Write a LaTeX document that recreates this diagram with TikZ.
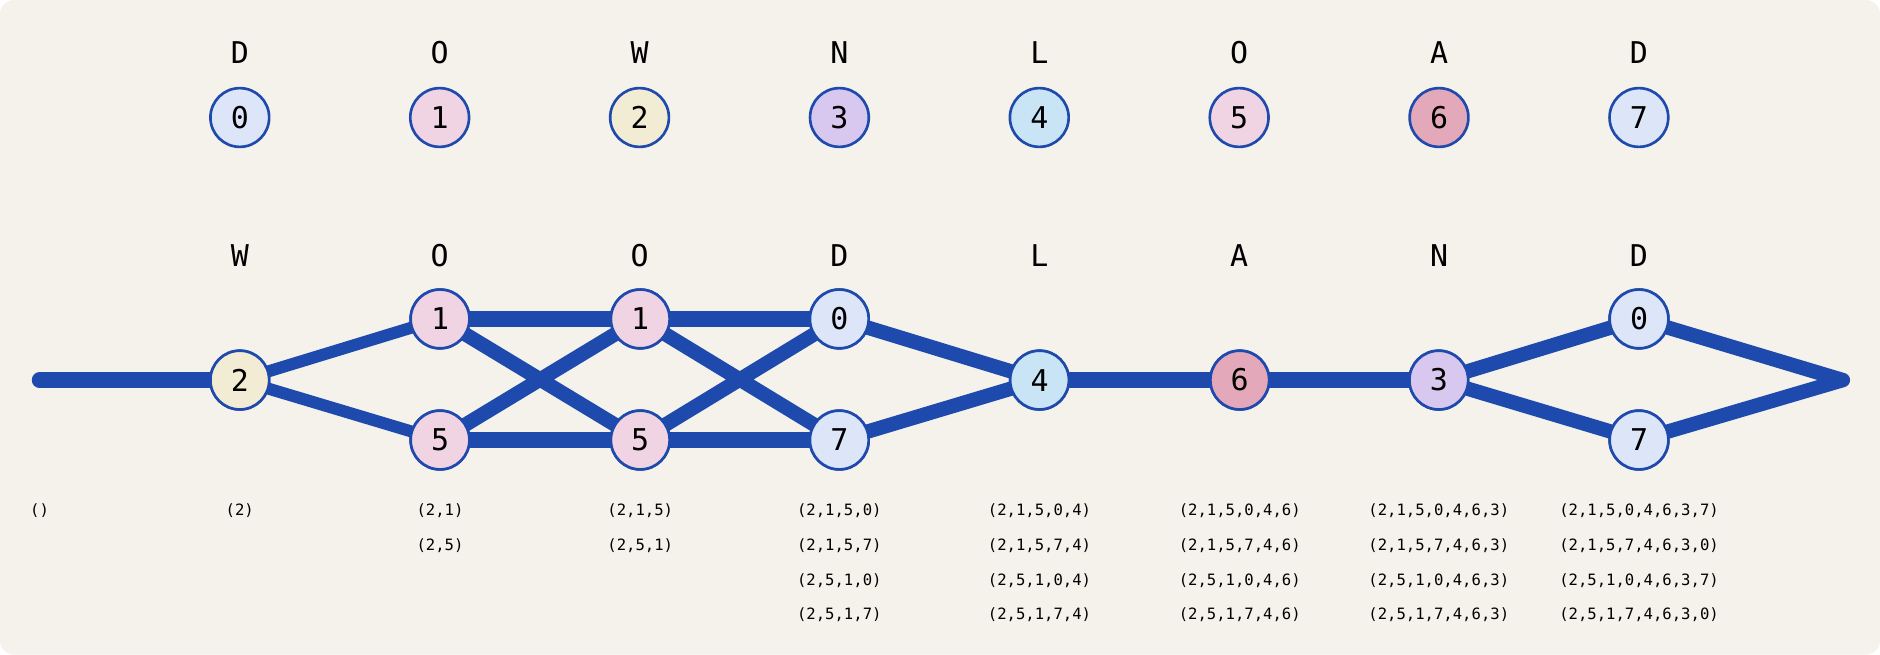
\documentclass[tikz,border=0pt]{standalone}
\usepackage{fontspec}
\setmonofont{DejaVu Sans Mono}
\begin{document}
\begin{tikzpicture}[x=1pt,y=-1pt,
  st/.style={circle,draw=eb,line width=2.2pt,minimum size=49pt,inner sep=0pt,font=\ttfamily\fontsize{25}{25}\selectfont},
  lt/.style={font=\ttfamily\fontsize{25}{25}\selectfont},
  tp/.style={font=\ttfamily\fontsize{13}{13}\selectfont},
  ed/.style={draw=eb,line width=13pt,line cap=round}]
\definecolor{eb}{HTML}{1E4AAD}\definecolor{bg}{HTML}{F5F1EB}
\definecolor{c0}{HTML}{DCE6F8}\definecolor{c1}{HTML}{F0D4E3}\definecolor{c2}{HTML}{F2ECD5}
\definecolor{c3}{HTML}{D8C8F0}\definecolor{c4}{HTML}{C8E4F5}\definecolor{c6}{HTML}{E3A8BA}
\fill[bg,rounded corners=12pt] (0,0) rectangle (1568,546);
\useasboundingbox (0,0) rectangle (1568,546);
% top
\foreach \l/\n/\c [count=\i from 0] in {D/0/c0,O/1/c1,W/2/c2,N/3/c3,L/4/c4,O/5/c1,A/6/c6,D/7/c0}{
  \node[lt] (tl\i) at (200+166.7*\i,44) {\l};
  \node[st,fill=\c] (t\i) at (200+166.7*\i,98) {\n};}
\foreach \l [count=\i from 0] in {W,O,O,D,L,A,N,D}
  \node[lt] (bl\i) at (200+166.7*\i,213) {\l};
\coordinate (s) at (33,317); \coordinate (e) at (1537,317);
\node[st,fill=c2] (n2) at (200,317) {2};
\node[st,fill=c1] (a1) at (367,266) {1};
\node[st,fill=c1] (a5) at (367,367) {5};
\node[st,fill=c1] (b1) at (534,266) {1};
\node[st,fill=c1] (b5) at (534,367) {5};
\node[st,fill=c0] (c0) at (700,266) {0};
\node[st,fill=c0] (c7) at (700,367) {7};
\node[st,fill=c4] (n4) at (867,317) {4};
\node[st,fill=c6] (n6) at (1034,317) {6};
\node[st,fill=c3] (n3) at (1200,317) {3};
\node[st,fill=c0] (d0) at (1367,266) {0};
\node[st,fill=c0] (d7) at (1367,367) {7};
\begin{scope}[on background layer/.style={}]
\path[ed] (s)--(n2.center);
\path[ed,line width=10pt] (n2.center)--(a1.center) (n2.center)--(a5.center);
\path[ed] (a1.center)--(b1.center) (a5.center)--(b5.center) (b1.center)--(c0.center) (b5.center)--(c7.center);
\path[ed,line width=12pt] (a1.center)--(b5.center) (a5.center)--(b1.center) (b1.center)--(c7.center) (b5.center)--(c0.center)
  (c0.center)--(n4.center) (c7.center)--(n4.center);
\path[ed] (n4.center)--(n6.center)--(n3.center);
\path[ed,line width=12pt] (n3.center)--(d0.center) (n3.center)--(d7.center) (d0.center)--(e) (d7.center)--(e);
\end{scope}
% redraw nodes on top
\node[st,fill=c2] at (n2) {2};
\node[st,fill=c1] at (a1) {1};
\node[st,fill=c1] at (a5) {5};
\node[st,fill=c1] at (b1) {1};
\node[st,fill=c1] at (b5) {5};
\node[st,fill=c0] at (c0) {0};
\node[st,fill=c0] at (c7) {7};
\node[st,fill=c4] at (n4) {4};
\node[st,fill=c6] at (n6) {6};
\node[st,fill=c3] at (n3) {3};
\node[st,fill=c0] at (d0) {0};
\node[st,fill=c0] at (d7) {7};
% tuples
\node[tp] (p0) at (33,426) {()};
\node[tp] (p1) at (200,426) {(2)};
\foreach \t [count=\j from 0] in {(2,1),(2,5)} \node[tp] at (367,426+29*\j) {\t};
\foreach \t [count=\j from 0] in {(2,1,5),(2,5,1)} \node[tp] at (534,426+29*\j) {\t};
\foreach \t [count=\j from 0] in {(2,1,5,0),(2,1,5,7),(2,5,1,0),(2,5,1,7)} \node[tp] at (700,426+29*\j) {\t};
\foreach \t [count=\j from 0] in {(2,1,5,0,4),(2,1,5,7,4),(2,5,1,0,4),(2,5,1,7,4)} \node[tp] at (867,426+29*\j) {\t};
\foreach \t [count=\j from 0] in {(2,1,5,0,4,6),(2,1,5,7,4,6),(2,5,1,0,4,6),(2,5,1,7,4,6)} \node[tp] at (1034,426+29*\j) {\t};
\foreach \t [count=\j from 0] in {(2,1,5,0,4,6,3),(2,1,5,7,4,6,3),(2,5,1,0,4,6,3),(2,5,1,7,4,6,3)} \node[tp] at (1200,426+29*\j) {\t};
\foreach \t [count=\j from 0] in {(2,1,5,0,4,6,3,7),(2,1,5,7,4,6,3,0),(2,5,1,0,4,6,3,7),(2,5,1,7,4,6,3,0)} \node[tp] at (1367,426+29*\j) {\t};
\end{tikzpicture}
\end{document}
